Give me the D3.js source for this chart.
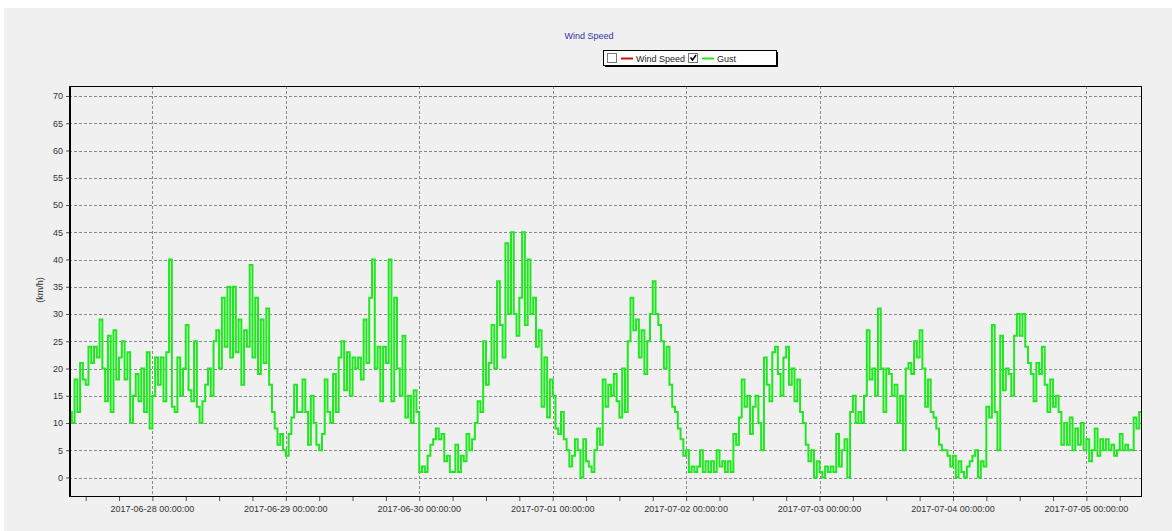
<!DOCTYPE html>
<html>
<head>
<meta charset="utf-8">
<script src="https://cdn.jsdelivr.net/npm/d3@7"></script>
<style>
    body { margin: 0; background: #fff; }
    svg { display: block; font-family: "Liberation Sans", Arial, sans-serif; }
</style>
</head>
<body>
<div id="chart"></div>
<script>
// Gust readings (km/h), one value every 30 minutes, starting 2017-06-27 09:00
const gust0627 = [12, 10, 18, 12, 21, 18, 17, 24, 21, 24, 22, 29, 20, 14, 26, 12, 27, 18, 22, 25, 18, 23, 10, 15, 19, 14, 20, 12, 23, 9];
const gust0628 = [15, 22, 17, 22, 14, 23, 40, 13, 12, 22, 15, 20, 28, 16, 14, 25, 13, 10, 14, 17, 20, 15, 25, 27,
                  20, 33, 24, 35, 22, 35, 23, 29, 17, 27, 24, 39, 22, 33, 19, 29, 21, 31, 17, 12, 9, 6, 8, 5];
const gust0629 = [4, 8, 11, 17, 12, 12, 18, 12, 6, 15, 10, 6, 5, 8, 18, 12, 10, 19, 12, 22, 25, 16, 23, 15,
                  22, 20, 22, 18, 29, 21, 33, 40, 20, 24, 14, 24, 21, 40, 14, 33, 20, 15, 26, 11, 15, 10, 16, 12];
const gust0630 = [1, 2, 1, 4, 6, 7, 9, 7, 8, 3, 4, 1, 1, 6, 1, 4, 3, 8, 5, 7, 10, 14, 12, 25,
                  17, 21, 28, 20, 36, 28, 22, 43, 30, 45, 30, 26, 33, 45, 28, 40, 30, 33, 24, 27, 13, 22, 11, 18];
const gust0701 = [15, 9, 8, 12, 7, 5, 2, 4, 7, 5, 0, 7, 3, 2, 1, 5, 9, 6, 18, 13, 17, 15, 19, 14,
                  11, 20, 12, 25, 33, 27, 29, 22, 27, 19, 25, 30, 36, 30, 28, 25, 20, 24, 17, 13, 12, 9, 7, 4];
const gust0702 = [5, 1, 2, 1, 2, 5, 1, 3, 1, 3, 1, 5, 2, 3, 1, 3, 1, 8, 6, 11, 18, 13, 15, 8,
                  13, 15, 10, 5, 22, 17, 14, 23, 24, 19, 15, 22, 24, 17, 20, 14, 18, 12, 10, 6, 3, 5, 0, 3];
const gust0703 = [1, 0, 2, 1, 2, 1, 8, 2, 5, 7, 0, 12, 15, 10, 12, 10, 15, 27, 18, 20, 15, 31, 20, 12,
                  20, 19, 15, 17, 10, 15, 5, 20, 21, 19, 25, 22, 27, 20, 13, 18, 12, 11, 9, 6, 5, 5, 4, 2];
const gust0704 = [4, 0, 3, 1, 0, 2, 3, 4, 5, 0, 3, 2, 13, 11, 28, 12, 5, 26, 16, 20, 19, 15, 26, 30,
                  26, 30, 24, 21, 19, 14, 21, 19, 24, 17, 12, 18, 13, 15, 12, 6, 10, 6, 11, 5, 9, 6, 10, 5];
const gust0705 = [7, 3, 5, 9, 4, 7, 5, 7, 5, 6, 4, 5, 8, 5, 6, 5, 5, 11, 9, 12, 9];

const yTicks = d3.range(0, 75, 5);
const legendItems = [
    { name: "Wind Speed", color: "#d01010", checked: false },
    { name: "Gust", color: "#1ee81e", checked: true }
];

const start = new Date(2017, 5, 27, 9, 0);
const end = new Date(2017, 6, 5, 10, 0);

const data = [].concat(gust0627, gust0628, gust0629, gust0630, gust0701, gust0702, gust0703, gust0704, gust0705)
    .map((v, i) => ({ t: d3.timeMinute.offset(start, i * 30), v: v }));

const W = 1172, H = 531;
const plot = { left: 69, right: 1142, top: 86, bottom: 497 };

const svg = d3.select("#chart").append("svg")
    .attr("width", W)
    .attr("height", H);

// panel background
svg.append("rect")
    .attr("x", 4).attr("y", 8)
    .attr("width", W - 4).attr("height", H - 8)
    .attr("fill", "#f0f0f0");

const x = d3.scaleTime().domain([start, end]).range([plot.left, plot.right]);
const y = d3.scaleLinear().domain([0, 70]).range([477.5, 96]);

// title
svg.append("text")
    .attr("x", 589).attr("y", 39)
    .attr("text-anchor", "middle")
    .style("font-size", "9px")
    .attr("fill", "#3030a8")
    .text("Wind Speed");

// legend
const lg = svg.append("g");
lg.append("rect").attr("x", 605).attr("y", 52).attr("width", 173).attr("height", 15).attr("fill", "#000");
lg.append("rect").attr("x", 603.5).attr("y", 50.5).attr("width", 173).attr("height", 15)
    .attr("fill", "#fff").attr("stroke", "#000");

let lx = 607;
legendItems.forEach(d => {
    lg.append("rect").attr("x", lx + 0.5).attr("y", 53.5).attr("width", 9).attr("height", 9)
        .attr("fill", "#fff").attr("stroke", "#777");
    if (d.checked) {
        lg.append("path")
            .attr("d", `M${lx + 2.5},${57.5} L${lx + 4.5},${60} L${lx + 8},${55}`)
            .attr("fill", "none").attr("stroke", "#000").attr("stroke-width", 1.6);
    }
    lg.append("line").attr("x1", lx + 14).attr("x2", lx + 26).attr("y1", 58.5).attr("y2", 58.5)
        .attr("stroke", d.color).attr("stroke-width", 2);
    const t = lg.append("text").attr("x", lx + 29).attr("y", 61.5)
        .style("font-size", "9px").attr("fill", "#222").text(d.name);
    lx += 29 + t.node().getComputedTextLength() + 3;
});

// gridlines
const grid = svg.append("g")
    .attr("stroke", "#8a8a8a")
    .attr("stroke-dasharray", "3,2")
    .attr("shape-rendering", "crispEdges");

grid.selectAll(".hg").data(yTicks).enter().append("line")
    .attr("x1", plot.left).attr("x2", plot.right)
    .attr("y1", d => Math.round(y(d)) + 0.5).attr("y2", d => Math.round(y(d)) + 0.5);

const days = d3.timeDay.range(d3.timeDay.ceil(start), end);
grid.selectAll(".vg").data(days).enter().append("line")
    .attr("x1", d => Math.round(x(d)) + 0.5).attr("x2", d => Math.round(x(d)) + 0.5)
    .attr("y1", plot.top).attr("y2", plot.bottom);

// gust line
svg.append("clipPath").attr("id", "clip")
    .append("rect")
    .attr("x", plot.left).attr("y", plot.top)
    .attr("width", plot.right - plot.left).attr("height", plot.bottom - plot.top);

svg.append("path")
    .datum(data)
    .attr("clip-path", "url(#clip)")
    .attr("fill", "none")
    .attr("stroke", "#1ee81e")
    .attr("stroke-width", 2)
    .attr("stroke-linejoin", "miter")
    .attr("d", d3.line()
        .x(d => x(d.t))
        .y(d => y(d.v))
        .curve(d3.curveStepAfter));

// plot frame
svg.append("rect")
    .attr("x", plot.left + 0.5).attr("y", plot.top + 0.5)
    .attr("width", plot.right - plot.left - 1).attr("height", plot.bottom - plot.top - 1)
    .attr("fill", "none").attr("stroke", "#000")
    .attr("shape-rendering", "crispEdges");
svg.append("path")
    .attr("d", `M${plot.left + 1},${plot.top} V${plot.bottom - 1} H${plot.right}`)
    .attr("fill", "none").attr("stroke", "#000").attr("stroke-width", 1)
    .attr("shape-rendering", "crispEdges");

// y axis
const yAxis = svg.append("g")
    .attr("transform", `translate(${plot.left},0)`)
    .call(d3.axisLeft(y).tickValues(yTicks).tickSize(3).tickPadding(3).tickSizeOuter(0));
yAxis.select(".domain").remove();
yAxis.selectAll("line").attr("stroke", "#555");
yAxis.selectAll("text").style("font-size", "9px").attr("fill", "#333").style("font-family", "Liberation Sans, Arial");

// x axis: minor ticks every 6 hours, labels at midnight
const xAxis = svg.append("g")
    .attr("transform", `translate(0,${plot.bottom})`)
    .call(d3.axisBottom(x).ticks(d3.timeHour.every(6)).tickSize(4).tickFormat("").tickSizeOuter(0));
xAxis.select(".domain").remove();
xAxis.selectAll("line").attr("stroke", "#555");

const fmt = d3.timeFormat("%Y-%m-%d %H:%M:%S");
svg.append("g").selectAll("text").data(days).enter().append("text")
    .attr("x", d => x(d))
    .attr("y", 512)
    .attr("text-anchor", "middle")
    .style("font-size", "9px")
    .attr("fill", "#333")
    .text(d => fmt(d));

// y axis title
svg.append("text")
    .attr("transform", "translate(43,290) rotate(-90)")
    .attr("text-anchor", "middle")
    .style("font-size", "9px")
    .attr("fill", "#333")
    .text("(km/h)");
</script>
</body>
</html>
